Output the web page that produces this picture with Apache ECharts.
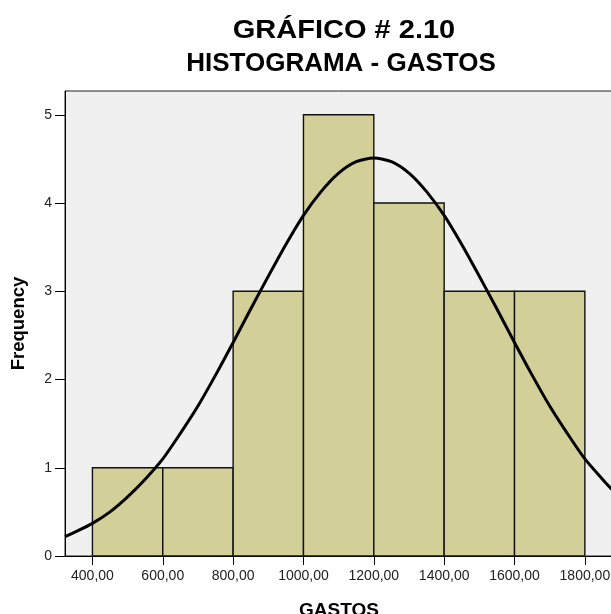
<!DOCTYPE html>
<html>
<head>
<meta charset="utf-8">
<script src="https://cdn.jsdelivr.net/npm/echarts@6/dist/echarts.min.js"></script>
<style>
  html, body { margin: 0; padding: 0; background: #fff; }
  #chart { width: 611px; height: 614px; }
</style>
</head>
<body>
<div id="chart"></div>
<script>
// histogram bins: lower edge, upper edge, count
var binStart = [400, 600, 800, 1000, 1200, 1400, 1600];
var binEnd = [600, 800, 1000, 1200, 1400, 1600, 1800];
var counts = [1, 1, 3, 5, 4, 3, 3];

// normal curve
var curveX = [322, 350, 400, 450, 500, 550, 600, 650, 700, 750, 800, 850, 900, 950, 1000, 1050, 1100, 1150,
  1200, 1250, 1300, 1350, 1400, 1450, 1500, 1550, 1600, 1650, 1700, 1750, 1800, 1850, 1880];
var curveY = [0.22, 0.27, 0.37, 0.50, 0.67, 0.87, 1.10, 1.39, 1.70, 2.05, 2.42, 2.80, 3.17, 3.53, 3.86, 4.13, 4.34, 4.47,
  4.51, 4.47, 4.34, 4.13, 3.86, 3.53, 3.17, 2.80, 2.42, 2.05, 1.70, 1.39, 1.10, 0.87, 0.74];

var xTicks = [400, 600, 800, 1000, 1200, 1400, 1600, 1800];
var yTicks = [0, 1, 2, 3, 4, 5];

var font = "Liberation Sans, Arial, sans-serif";

var chart = echarts.init(document.getElementById("chart"));

var barData = binStart.map(function (s, i) { return [s, binEnd[i], counts[i]]; });
var lineData = curveX.map(function (x, i) { return [x, curveY[i]]; });

var option = {
  animation: false,
  title: [
    {
      text: "HISTOGRAMA - GASTOS",
      left: 336, top: 46, textAlign: "center",
      textStyle: { fontFamily: font, fontSize: 26, fontWeight: "bold", color: "#000" }
    }
  ],
  graphic: [
    {
      type: "text",
      x: 344, y: 31,
      scaleX: 1.16,
      style: {
        text: "GRÁFICO # 2.10",
        font: "bold 25px " + font,
        fill: "#000",
        align: "center",
        verticalAlign: "middle"
      }
    }
  ],
  grid: {
    left: 65, top: 91, right: -2, bottom: 58,
    outerBoundsMode: "none",
    containLabel: false,
    show: true,
    backgroundColor: "#f0f0f0",
    borderColor: "#222",
    borderWidth: 1
  },
  xAxis: {
    type: "value",
    min: 322, max: 1880,
    name: "GASTOS",
    nameLocation: "middle",
    nameGap: 45,
    nameTextStyle: { fontFamily: font, fontSize: 19, fontWeight: "bold", color: "#000", verticalAlign: "top" },
    splitLine: { show: false },
    axisLine: { show: true, onZero: false, lineStyle: { color: "#000", width: 1 } },
    axisTick: { show: true, length: 9, customValues: xTicks, lineStyle: { color: "#000" } },
    axisLabel: {
      customValues: xTicks,
      margin: 13,
      fontFamily: font, fontSize: 14, color: "#222",
      formatter: function (v) { return v.toFixed(2).replace(".", ","); }
    }
  },
  yAxis: {
    type: "value",
    min: 0, max: 5.27,
    name: "Frequency",
    nameLocation: "middle",
    nameGap: 37,
    nameTextStyle: { fontFamily: font, fontSize: 18.5, fontWeight: "bold", color: "#000" },
    splitLine: { show: false },
    axisLine: { show: true, lineStyle: { color: "#000", width: 1 } },
    axisTick: { show: true, length: 10, customValues: yTicks, lineStyle: { color: "#000" } },
    axisLabel: {
      customValues: yTicks,
      margin: 13,
      fontFamily: font, fontSize: 14, color: "#222"
    }
  },
  series: [
    {
      type: "custom",
      data: barData,
      encode: { x: [0, 1], y: 2 },
      renderItem: function (params, api) {
        var p0 = api.coord([api.value(0), api.value(2)]);
        var p1 = api.coord([api.value(1), 0]);
        return {
          type: "rect",
          shape: { x: p0[0], y: p0[1], width: p1[0] - p0[0], height: p1[1] - p0[1] },
          style: { fill: "#d3cf98", stroke: "#111", lineWidth: 1.4 }
        };
      }
    },
    {
      type: "line",
      data: lineData,
      smooth: 0.25,
      symbol: "none",
      clip: true,
      lineStyle: { color: "#000", width: 3 },
      z: 5
    }
  ]
};

chart.setOption(option);
</script>
</body>
</html>
